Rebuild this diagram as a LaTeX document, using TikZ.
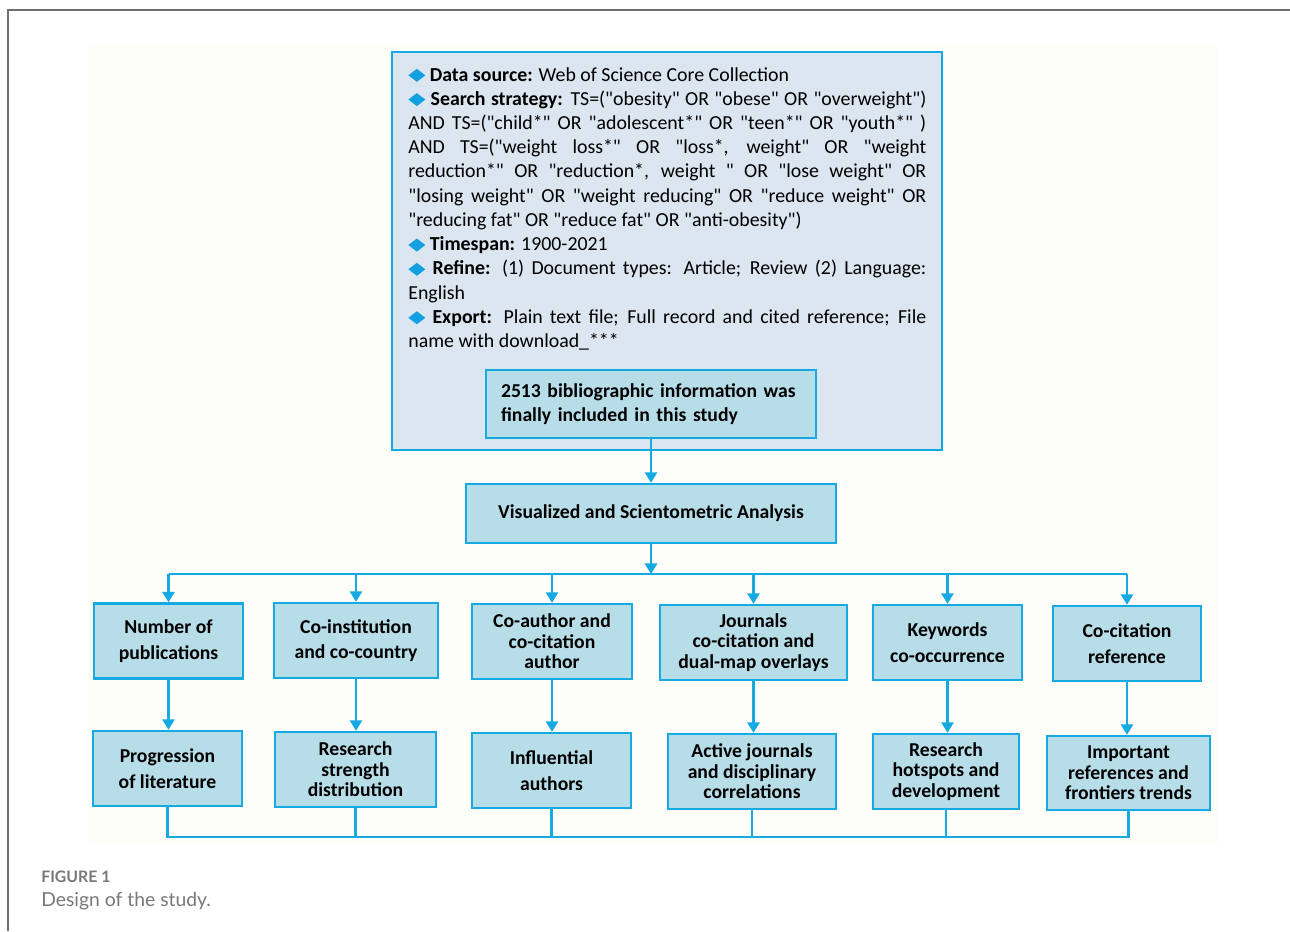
\documentclass[tikz,border=0pt]{standalone}
\usepackage{fontspec}
\setmainfont{Carlito}[Ligatures=TeXOff]
\newfontfamily\capfont{Lato}
\usetikzlibrary{arrows.meta, backgrounds}
\definecolor{boxline}{RGB}{22,170,226}
\definecolor{boxfill}{RGB}{183,221,232}
\definecolor{srcfill}{RGB}{220,230,241}
\definecolor{bulletblue}{RGB}{18,160,226}
\definecolor{pagebg}{RGB}{253,253,250}
\definecolor{framegray}{RGB}{110,110,110}
\definecolor{capgray}{RGB}{120,120,120}
\newcommand{\bul}{\tikz[baseline=-0.6ex]\fill[bulletblue] (0cm,0cm) -- (0.17cm,0.13cm) -- (0.34cm,0cm) -- (0.17cm,-0.13cm) -- cycle;}
\tikzset{%
  block/.style  = {draw=boxline, line width=1.4pt, rectangle, fill=boxfill,
    align=center, minimum height=1.5cm, inner sep=2pt,
    font=\bfseries\fontsize{11.2}{11.6}\selectfont},
  source/.style = {draw=boxline, line width=1.4pt, rectangle, fill=srcfill,
    minimum width=11cm, minimum height=7.96cm},
  info/.style   = {text width=10.36cm, align=justify, inner sep=0pt,
    font=\fontsize{11.3}{13.8}\selectfont},
  link/.style   = {draw=boxline, line width=1.2pt}
}
\tikzstyle{arrow} = [link, -{Triangle[width=7pt,length=6pt]}]
\begin{document}
\begin{tikzpicture}[x=0.02cm, y=-0.02cm]
\useasboundingbox (0,0) rectangle (1290,931);

\draw [framegray, line width=0.9pt] (8,931) -- (8,10) -- (1290,10);

\draw
  node [source] (src) at (667,251) {}
  node [info, anchor=base west] (info) at (408,81) {%
\bul\ \textbf{Data source:} Web of Science Core Collection\\
\bul\ \textbf{Search strategy:} TS=("obesity" OR "obese" OR "overweight")\linebreak
AND TS=("child*" OR "adolescent*" OR "teen*" OR "youth*" )\linebreak
AND TS=("weight loss*" OR "loss*, weight" OR "weight\linebreak
reduction*" OR "reduction*, weight " OR "lose weight" OR\linebreak
"losing weight" OR "weight reducing" OR "reduce weight" OR\linebreak
"reducing fat" OR "reduce fat" OR "anti-obesity")\\
\bul\ \textbf{Timespan:} 1900-2021\\
\bul\ \textbf{Refine:} (1) Document types: Article; Review (2) Language:\linebreak
English\\
\bul\ \textbf{Export:} Plain text file; Full record and cited reference; File\linebreak
name with download\_***}
  node [block, minimum width=6.6cm, minimum height=1.36cm, text width=6.0cm,
    align=left] (final) at (651,404)
    {2513 bibliographic information was\\[2pt]finally included in this study}
  node [block, minimum width=7.4cm, minimum height=1.18cm] (vis) at (651,513.5)
    {Visualized and Scientometric Analysis}
;

\draw
  node [block, minimum width=2.98cm] (num) at (168.5,641) {Number of\\[3pt]publications}
  node [block, minimum width=3.28cm] (inst) at (356,640.5) {Co-institution\\[3pt]and co-country}
  node [block, minimum width=3.2cm] (auth) at (552,641.5) {Co-author and\\co-citation\\author}
  node [block, minimum width=3.74cm] (jour) at (753.5,642.5) {Journals\\co-citation and\\dual-map overlays}
  node [block, minimum width=2.98cm] (keyw) at (947.5,642.5) {Keywords\\[3pt]co-occurrence}
  node [block, minimum width=2.96cm] (cocit) at (1127,643.5) {Co-citation\\[3pt]reference}
;

\draw
  node [block, minimum width=2.98cm] (prog) at (167.5,768.5) {Progression\\[3pt]of literature}
  node [block, minimum width=3.22cm] (strength) at (355.5,769.5) {Research\\strength\\distribution}
  node [block, minimum width=3.18cm] (infl) at (551.5,770.5) {Influential\\[3pt]authors}
  node [block, minimum width=3.36cm] (active) at (752,771.5) {Active journals\\and disciplinary\\correlations}
  node [block, minimum width=2.92cm] (hot) at (946,771.5) {Research\\hotspots and\\development}
  node [block, minimum width=3.26cm, minimum height=1.48cm] (trend) at (1128.5,773) {Important\\references and\\frontiers trends}
;

\coordinate (upbus) at (651,574);
\coordinate (lowbus) at (651,837);

\draw [arrow] (final.south) -- (vis.north);
\draw [arrow] (vis.south) -- (upbus);
\draw [link] (num.north |- upbus) -- (cocit.north |- upbus);

\draw [arrow] (num.north |- upbus) -- (num.north);
\draw [arrow] (inst.north |- upbus) -- (inst.north);
\draw [arrow] (auth.north |- upbus) -- (auth.north);
\draw [arrow] (jour.north |- upbus) -- (jour.north);
\draw [arrow] (keyw.north |- upbus) -- (keyw.north);
\draw [arrow] (cocit.north |- upbus) -- (cocit.north);

\draw [arrow] (num.south) -- (num.south |- prog.north);
\draw [arrow] (inst.south) -- (inst.south |- strength.north);
\draw [arrow] (auth.south) -- (auth.south |- infl.north);
\draw [arrow] (jour.south) -- (jour.south |- active.north);
\draw [arrow] (keyw.south) -- (keyw.south |- hot.north);
\draw [arrow] (cocit.south) -- (cocit.south |- trend.north);

\draw [link] (prog.south) -- (prog.south |- lowbus) -- (trend.south |- lowbus) -- (trend.south);
\draw [link] (strength.south) -- (strength.south |- lowbus);
\draw [link] (infl.south) -- (infl.south |- lowbus);
\draw [link] (active.south) -- (active.south |- lowbus);
\draw [link] (hot.south) -- (hot.south |- lowbus);

\node [anchor=base west, inner sep=0pt, text=capgray,
  font=\capfont\bfseries\fontsize{9}{10}\selectfont] (figno) at (41,882) {FIGURE 1};
\node [anchor=base west, inner sep=0pt, text=capgray,
  font=\capfont\fontsize{11}{12}\selectfont] (figcap) at (41,906) {Design of the study.};

\begin{pgfonlayer}{background}
  \fill [pagebg] (88,45) rectangle (1218,845);
\end{pgfonlayer}

\end{tikzpicture}
\end{document}
